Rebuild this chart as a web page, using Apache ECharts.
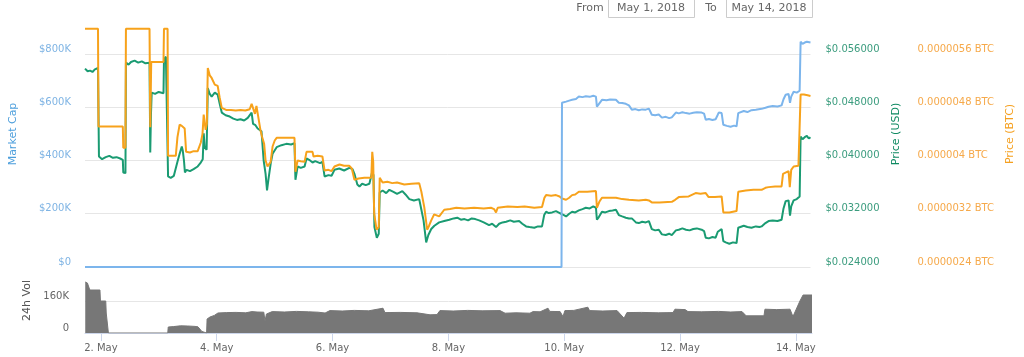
<!DOCTYPE html>
<html><head><meta charset="utf-8">
<script src="https://cdn.jsdelivr.net/npm/echarts@6/dist/echarts.min.js"></script>
<style>html,body{margin:0;padding:0;background:#fff}#c{width:1024px;height:357px}</style>
</head><body><div id="c"></div><script>
// time in hours since May 1, 2018 00:00
const xMin = 17.4, xMax = 318.7;
const dayTicks = [24, 72, 120, 168, 216, 264, 312];
const mcTicksMax = 901400, usdMin = 0.024, usdMax = 0.060056, btcMin = 0.0000024, btcMax = 0.0000060056, volMax = 275000;

const priceUsd = [
[17.4,0.0538],[18.5,0.0534],[19.5,0.0535],[20.5,0.0533],[21.5,0.0537],[22.8,0.0539],
[23.2,0.0406],[24.5,0.0402],[26,0.0405],[27.5,0.0407],[29,0.0404],[30.5,0.0405],[32,0.0403],[33.1,0.0401],
[33.3,0.0382],[34.2,0.0381],
[34.4,0.0547],[35.5,0.0544],[36.5,0.0548],[38,0.0550],[39.5,0.0547],[41,0.0549],[42.5,0.0546],[44.2,0.0547],
[44.5,0.0412],[44.8,0.0470],[45.1,0.0502],[46.5,0.0500],[48,0.0503],[50,0.0501],
[50.2,0.0552],[51,0.0556],[51.7,0.0555],
[51.9,0.0376],[53,0.0374],[54.3,0.0377],[55.1,0.0375],
[55.8,0.0398],[56.7,0.0410],[57.6,0.0421],[58.0,0.0415],[58.5,0.0400],[58.9,0.0382],[59.6,0.0386],[61,0.0384],[62.5,0.0387],[64.2,0.0391],[65.3,0.0396],[66.3,0.0402],
[66.7,0.0441],[67.1,0.0420],[67.9,0.0416],
[68.4,0.0509],[69.2,0.0500],[70.0,0.0496],[71.3,0.0502],[72.5,0.0499],[73.3,0.0486],[74.2,0.0472],[75.8,0.0468],[77.5,0.0466],[79,0.0463],[80.5,0.0461],[82,0.0462],[83.5,0.0460],[85,0.0464],[86.6,0.0472],
[87.2,0.0455],[88.2,0.0453],[89.1,0.0448],[90.7,0.0444],
[91.6,0.0400],[92.4,0.0380],[93.0,0.0355],[93.6,0.0372],[94.5,0.0395],[95.3,0.0410],[97.0,0.0420],[99,0.0423],[101,0.0425],[103,0.0424],[104.4,0.0426],
[104.8,0.0371],[105.7,0.0391],[107,0.0389],[108.6,0.0391],[109.4,0.0403],[110.5,0.0401],[111.9,0.0397],[113,0.0399],[115,0.0396],[116,0.0398],
[116.9,0.0376],[118.5,0.0378],[119.8,0.0377],[121.0,0.0386],[123,0.0388],[125,0.0385],[127.2,0.0389],[128.5,0.0387],[129.3,0.0380],
[130.5,0.0364],[131.4,0.0361],[132.5,0.0365],[134,0.0363],[135.5,0.0365],[136.3,0.0364],
[136.7,0.0383],[137.2,0.0378],[137.6,0.0300],[138.6,0.0284],[139.4,0.0290],[139.8,0.0352],[141,0.0355],[142.5,0.0351],[143.8,0.0356],[145.5,0.0353],[147,0.0350],[149.2,0.0354],[150.5,0.0349],[152.1,0.0342],[154,0.0340],[156.2,0.0342],
[157.1,0.0326],[158,0.0310],[159.1,0.0277],[160,0.0288],[161.2,0.0297],[162.5,0.0302],[164.5,0.0307],[166.6,0.0309],[168.7,0.0311],[170.5,0.0313],[172,0.0314],[173.5,0.0311],[175,0.0312],[176.5,0.0310],[178,0.0313],[179.5,0.0312],[181.1,0.0310],[183,0.0307],[185.2,0.0303],[186.5,0.0305],[188.1,0.0300],[189.4,0.0305],[190.8,0.0307],[192.3,0.0308],[194,0.0310],[195.5,0.0308],[197.7,0.0309],[199,0.0305],[200.6,0.0301],[202,0.0300],[204,0.0299],[205.5,0.0301],[207.2,0.0301],
[208.1,0.0318],[208.9,0.0323],[210,0.0321],[211.4,0.0322],[213,0.0324],[214,0.0322],[215.1,0.0320],[216.3,0.0318],[217.2,0.0316],[218.5,0.0320],[219.7,0.0323],[221,0.0322],[222.5,0.0325],[224,0.0327],[225.4,0.0329],[227,0.0328],[228.5,0.0331],[229.6,0.0329],
[230.0,0.0311],[230.8,0.0315],[232.1,0.0323],[233.5,0.0322],[235,0.0324],[236.5,0.0325],[237.9,0.0326],[239.1,0.0318],[240.5,0.0316],[242.0,0.0314],[243.3,0.0313],[244.5,0.0313],[246.2,0.0307],[247.4,0.0306],[248.8,0.0308],[250.3,0.0307],[251.6,0.0309],[252.8,0.0297],[254.2,0.0295],[255.7,0.0296],[257.0,0.0289],[258.6,0.0288],[260,0.0290],[261.1,0.0288],[262.8,0.0295],[264,0.0296],[265.5,0.0298],[267,0.0296],[268.5,0.0295],[270,0.0297],[271.5,0.0298],[273.5,0.0296],[274.5,0.0294],
[275.2,0.0284],[276.5,0.0283],[278,0.0285],[279.3,0.0284],[280.2,0.0293],[280.6,0.0296],[281.8,0.0297],
[282.5,0.0279],[283.5,0.0277],[285,0.0275],[286.5,0.0277],[288.0,0.0276],
[288.7,0.0299],[289.5,0.0301],[291,0.0302],[292.5,0.0300],[294.2,0.0299],[296,0.0301],[297.5,0.0300],[298.4,0.0301],[300,0.0306],[301.3,0.0309],[303,0.0310],[305,0.0309],[306.7,0.0311],
[307.5,0.0328],[308.4,0.0339],[309.6,0.0340],[310.2,0.0317],[310.7,0.0331],[311.7,0.0340],[313,0.0342],[314.2,0.0346],
[314.6,0.0436],[315.4,0.0432],[316.3,0.0435],[317.2,0.0437],[318,0.0433],[318.7,0.0435]
];

const priceBtc = [
[17.4,5.98e-6],[22.8,5.98e-6],
[23.0,4.51e-6],[33.1,4.51e-6],
[33.3,4.19e-6],[34.2,4.19e-6],
[34.4,5.98e-6],[44.2,5.98e-6],
[44.5,4.50e-6],[44.9,5.48e-6],[50.0,5.48e-6],
[50.2,5.98e-6],[51.7,5.98e-6],
[51.9,4.07e-6],[55.1,4.07e-6],
[55.8,4.35e-6],[56.7,4.54e-6],[57.6,4.52e-6],[58.2,4.50e-6],[58.8,4.48e-6],
[59.4,4.13e-6],[61,4.12e-6],[62.5,4.14e-6],[64.2,4.14e-6],[65.5,4.27e-6],[66.2,4.40e-6],[66.7,4.69e-6],[67.5,4.46e-6],[68.0,4.55e-6],
[68.4,5.39e-6],[69.2,5.28e-6],[70.0,5.24e-6],[71.3,5.14e-6],[72.5,5.12e-6],[73.3,4.95e-6],[74.2,4.79e-6],[76,4.76e-6],[78,4.76e-6],[80,4.75e-6],[82,4.76e-6],[84,4.75e-6],[85.8,4.77e-6],[86.6,4.85e-6],[87.4,4.84e-6],[88.0,4.70e-6],[88.6,4.82e-6],[89.4,4.80e-6],
[90.3,4.45e-6],[90.9,4.36e-6],[91.8,4.25e-6],[92.4,4.00e-6],[93.2,3.91e-6],[94.5,3.98e-6],[95.3,4.21e-6],[96.2,4.30e-6],[97.0,4.34e-6],[100,4.34e-6],[104.4,4.34e-6],
[104.8,3.83e-6],[105.7,4.00e-6],[107,3.99e-6],[108.6,3.98e-6],[109.4,4.13e-6],[111.9,4.13e-6],[112.3,4.06e-6],[114,4.07e-6],[116.0,4.06e-6],
[116.9,3.85e-6],[118.5,3.86e-6],[119.8,3.84e-6],[121.0,3.91e-6],[123.1,3.94e-6],[125,3.92e-6],[127.2,3.92e-6],[128.2,3.88e-6],
[129.3,3.71e-6],[131,3.73e-6],[133.4,3.74e-6],[136.3,3.74e-6],
[136.7,4.13e-6],[137.1,3.98e-6],[137.5,3.20e-6],[138.5,2.96e-6],[139.4,3.00e-6],[139.8,3.74e-6],[141,3.67e-6],[143,3.68e-6],[145,3.66e-6],[147,3.67e-6],[150,3.64e-6],[153,3.65e-6],[156.2,3.66e-6],
[157.1,3.53e-6],[158.3,3.30e-6],[159.5,2.96e-6],[160.3,3.02e-6],[161.2,3.10e-6],[162.4,3.19e-6],[164.5,3.16e-6],[166.6,3.26e-6],[169,3.27e-6],[171.6,3.29e-6],[175,3.28e-6],[179,3.29e-6],[183,3.28e-6],[186,3.29e-6],[187.3,3.27e-6],[188.1,3.22e-6],[188.8,3.29e-6],[189.4,3.30e-6],[193,3.31e-6],[197,3.30e-6],[200,3.31e-6],[204,3.29e-6],[207.2,3.30e-6],
[208.2,3.44e-6],[208.9,3.48e-6],[211,3.47e-6],[213.0,3.48e-6],[214.5,3.46e-6],[215.5,3.43e-6],[216.3,3.41e-6],[217.2,3.41e-6],[218.5,3.44e-6],[219.7,3.48e-6],[221,3.49e-6],[222.5,3.53e-6],[226,3.53e-6],[229.6,3.54e-6],
[230.0,3.29e-6],[231,3.38e-6],[232.1,3.44e-6],[235,3.44e-6],[237.9,3.44e-6],[240.5,3.42e-6],[243.3,3.41e-6],[247.4,3.40e-6],[250.3,3.41e-6],[251.6,3.40e-6],[252.8,3.37e-6],[256,3.37e-6],[261.1,3.38e-6],[262.5,3.41e-6],[264.0,3.45e-6],[268.1,3.46e-6],[271.0,3.51e-6],[273,3.50e-6],[275.2,3.51e-6],[276.4,3.45e-6],[279,3.45e-6],[281.8,3.46e-6],
[282.5,3.22e-6],[285,3.22e-6],[288.0,3.24e-6],
[288.7,3.53e-6],[291.8,3.55e-6],[295,3.56e-6],[298.4,3.56e-6],[300,3.59e-6],[301.3,3.60e-6],[304,3.61e-6],[306.7,3.61e-6],
[307.3,3.80e-6],[307.9,3.83e-6],[309.6,3.84e-6],[310.1,3.60e-6],[310.7,3.86e-6],[311.7,3.91e-6],[313.7,3.92e-6],[314.3,3.95e-6],
[314.6,4.99e-6],[316,4.99e-6],[317.5,4.98e-6],[318.7,4.97e-6]
];

const marketCap = [
[17.4,0],[215.3,0],
[215.5,617000],[216.3,617000],[217.2,621000],[218.5,625000],[219.7,628000],[221.3,631000],[222.5,640000],[224,638000],[225.4,641000],[227,639000],[228.5,643000],[229.6,640000],
[230.0,602000],[230.8,612000],[232.1,628000],[234,626000],[235.5,629000],[237.9,628000],[239.1,617000],[240.5,616000],[242.0,613000],[243.3,607000],[244.5,591000],[246,593000],[247.4,589000],[248.8,592000],[250.3,591000],[251.6,595000],[252.8,572000],[254.2,570000],[255.7,573000],[257.0,561000],[258.6,564000],[260,559000],[261.1,562000],[262.8,580000],[264,577000],[265.5,581000],[267,578000],[268.5,576000],[270,579000],[271.5,581000],[273.5,580000],[274.5,576000],
[275.2,553000],[276.5,556000],[278,552000],[279.3,555000],[280.2,572000],[280.6,580000],[281.8,578000],
[282.5,534000],[284,530000],[285.5,527000],[287,531000],[288.0,528000],
[288.7,578000],[289.5,583000],[291,586000],[292.5,582000],[294.2,589000],[296,591000],[298.4,594000],[300,598000],[301.3,602000],[303,605000],[305,603000],[306.7,607000],
[307.5,630000],[308.4,647000],[309.6,650000],[310.2,617000],[310.7,640000],[311.7,658000],[313,655000],[314.2,662000],
[314.6,846000],[315.4,838000],[316.3,843000],[317.2,846000],[318,840000],[318.7,843000]
];

const volume24h = [
[17.5,255000],[18.4,250000],[19.2,240000],[19.4,215000],[23.6,215000],[23.8,160000],[26,160000],[26.2,100000],[26.9,100000],[27.1,0],
[51.7,0],[51.9,30000],[54,32000],[57,36000],[60,35000],[63,33000],[64.2,31000],[65,20000],[65.8,8000],[66.3,0],
[67.8,0],[68.0,70000],[69.2,80000],[71,88000],[72.5,100000],[73.3,105000],[76,102000],[80,103000],[84,101000],[86.6,107000],[88.7,105000],
[91.5,104000],[92,60000],[92.6,95000],[95,107000],[100,105000],[105,108000],[110,106000],[114,104000],[116.9,100000],[118.9,112000],[124,110000],[129,113000],[135,111000],[140.9,124000],[141.7,102000],[148,103000],[155,101000],[160.4,91000],[163.3,92000],[164.5,112000],[170,110000],[176,113000],[182,111000],[189.4,112000],[191.5,99000],[196,101000],[201.8,99000],[203.1,107000],[206,106000],[209.3,124000],[210,108000],[214.3,107000],[215.5,82000],[216.3,112000],[220,113000],[225.8,129000],[226.5,112000],[232,110000],[237.9,112000],[240.8,74000],[242.0,102000],[248,103000],[255,101000],[261.1,102000],[261.9,119000],[266.1,117000],[267.3,107000],[273,106000],[280,108000],[285,105000],[289.7,107000],[291.4,86000],[298.8,86000],[299.2,119000],[304,117000],[309.6,119000],[310.8,82000],[313.7,160000],[315,190000],[318.7,190000]
];

const FONT = 'DejaVu Sans';
const C_MC = '#7cb5ec', C_USD = '#1a9b72', C_BTC = '#f7a21b', C_VOL = '#777777';

const chart = echarts.init(document.getElementById('c'), null, {renderer: 'canvas'});
const lbl = (color) => ({color: color, fontSize: 10, fontFamily: FONT, verticalAlign: 'bottom', lineHeight: 10, showMaxLabel: false});
chart.setOption({
  animation: false,
  textStyle: {fontFamily: FONT},
  grid: [
    {left: 85, right: 212, top: 27, height: 240},
    {left: 85, right: 212, top: 278, height: 55}
  ],
  xAxis: [
    {gridIndex: 0, type: 'value', min: xMin, max: xMax, show: false},
    {gridIndex: 1, type: 'value', min: xMin, max: xMax,
      axisLine: {show: true, lineStyle: {color: '#ccd6eb'}},
      axisTick: {show: true, customValues: dayTicks, length: 8, lineStyle: {color: '#ccd6eb'}},
      axisLabel: {customValues: dayTicks, formatter: v => (v / 24 + 1) + '. May', color: '#666', fontSize: 10, margin: 10},
      splitLine: {show: false}}
  ],
  yAxis: [
    {gridIndex: 0, type: 'value', position: 'left', min: 0, max: mcTicksMax, interval: 200000,
      name: 'Market Cap', nameLocation: 'middle', nameGap: 66,
      nameTextStyle: {color: '#4d9fdc', fontSize: 11, padding: [0, 0, 0, 26]},
      axisLine: {show: false}, axisTick: {show: false},
      axisLabel: Object.assign(lbl('#7fb4e4'), {margin: 14, formatter: v => v === 0 ? '$0' : '$' + Math.round(v / 1000) + 'K'}),
      splitLine: {show: true, showMaxLine: false, lineStyle: {color: '#e6e6e6'}}},
    {gridIndex: 0, type: 'value', position: 'right', min: usdMin, max: usdMax, interval: 0.008,
      name: 'Price (USD)', nameLocation: 'middle', nameGap: 78,
      nameTextStyle: {color: '#0f8a62', fontSize: 11, padding: [0, 0, 0, 26]},
      axisLine: {show: false}, axisTick: {show: false},
      axisLabel: Object.assign(lbl('#3b9c7e'), {margin: 15, align: 'left', formatter: v => '$' + v.toFixed(6)}),
      splitLine: {show: false}},
    {gridIndex: 0, type: 'value', position: 'right', offset: 92, min: btcMin, max: btcMax, interval: 0.0000008,
      name: 'Price (BTC)', nameLocation: 'middle', nameGap: 101,
      nameTextStyle: {color: '#f5a020', fontSize: 11, padding: [0, 0, 0, 26]},
      axisLine: {show: false}, axisTick: {show: false},
      axisLabel: Object.assign(lbl('#f6a94a'), {margin: 15, align: 'left', formatter: v => String(parseFloat(v.toFixed(9))) + ' BTC'}),
      splitLine: {show: false}},
    {gridIndex: 1, type: 'value', position: 'left', min: 0, max: volMax, interval: 160000,
      name: '24h Vol', nameLocation: 'middle', nameGap: 52,
      nameTextStyle: {color: '#555', fontSize: 11, padding: [0, 0, 0, 10]},
      axisLine: {show: false}, axisTick: {show: false},
      axisLabel: Object.assign(lbl('#666'), {margin: 16, formatter: v => v === 0 ? '0' : Math.round(v / 1000) + 'K'}),
      splitLine: {show: true, showMaxLine: false, showMinLine: false, lineStyle: {color: '#e6e6e6'}}}
  ],
  series: [
    {name: 'Price (USD)', type: 'line', xAxisIndex: 0, yAxisIndex: 1, data: priceUsd, showSymbol: false,
      lineStyle: {color: C_USD, width: 2}, itemStyle: {color: C_USD}},
    {name: 'Price (BTC)', type: 'line', xAxisIndex: 0, yAxisIndex: 2, data: priceBtc, showSymbol: false,
      lineStyle: {color: C_BTC, width: 2}, itemStyle: {color: C_BTC}},
    {name: 'Market Cap', type: 'line', xAxisIndex: 0, yAxisIndex: 0, data: marketCap, showSymbol: false,
      lineStyle: {color: C_MC, width: 2}, itemStyle: {color: C_MC}},
    {name: '24h Vol', type: 'line', xAxisIndex: 1, yAxisIndex: 3, data: volume24h, showSymbol: false,
      lineStyle: {color: C_VOL, width: 1}, itemStyle: {color: C_VOL}, areaStyle: {color: C_VOL, opacity: 1}}
  ],
  graphic: [
    {type: 'text', x: 590, y: 8, style: {text: 'From', fill: '#666', font: '11px "DejaVu Sans"', align: 'center', verticalAlign: 'middle'}},
    {type: 'rect', shape: {x: 608.5, y: -1.5, width: 86, height: 19}, style: {fill: '#fff', stroke: '#cccccc', lineWidth: 1}},
    {type: 'text', x: 651, y: 8, style: {text: 'May 1, 2018', fill: '#666', font: '11px "DejaVu Sans"', align: 'center', verticalAlign: 'middle'}},
    {type: 'text', x: 711, y: 8, style: {text: 'To', fill: '#666', font: '11px "DejaVu Sans"', align: 'center', verticalAlign: 'middle'}},
    {type: 'rect', shape: {x: 726.5, y: -1.5, width: 86, height: 19}, style: {fill: '#fff', stroke: '#cccccc', lineWidth: 1}},
    {type: 'text', x: 769, y: 8, style: {text: 'May 14, 2018', fill: '#666', font: '11px "DejaVu Sans"', align: 'center', verticalAlign: 'middle'}}
  ]
});
</script></body></html>
